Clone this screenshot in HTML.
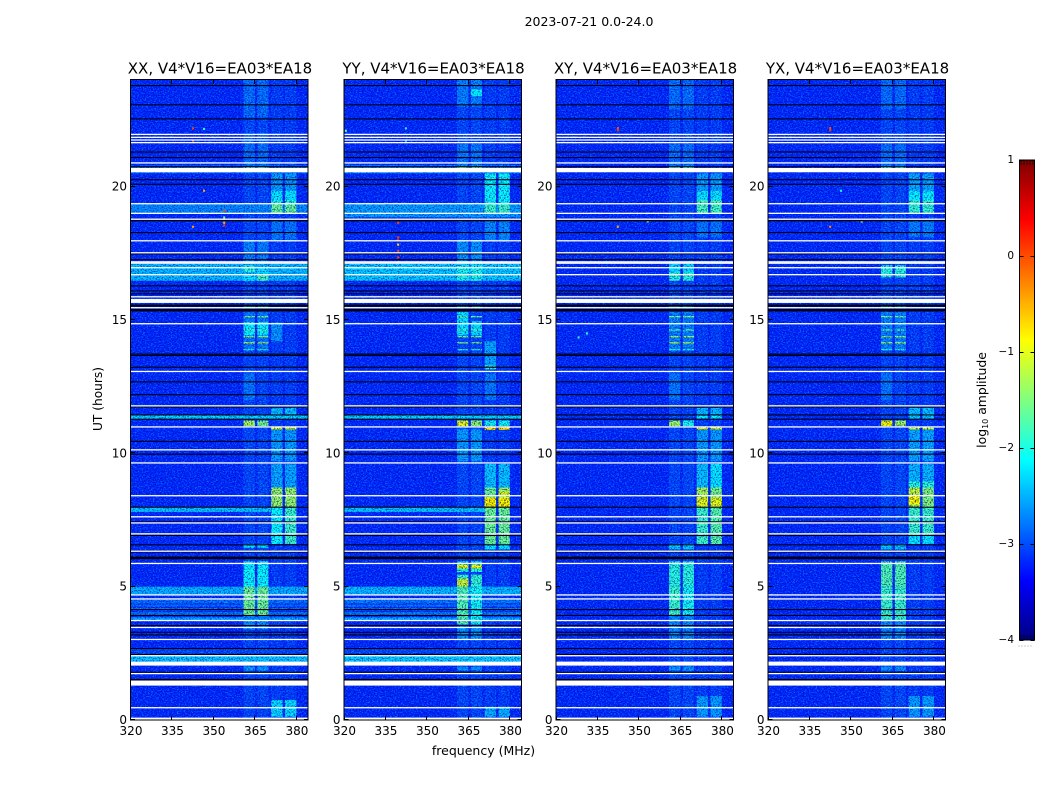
<!DOCTYPE html>
<html lang="en">
<head>
<meta charset="utf-8">
<title>2023-07-21 amplitude waterfall</title>
<style>
html,body{margin:0;padding:0;background:#fff;width:1050px;height:800px;overflow:hidden}
svg{display:block}
text{font-family:"DejaVu Sans","Liberation Sans",sans-serif;fill:#000}
.panel{isolation:isolate}
</style>
</head>
<body>
<svg id="figure" xmlns="http://www.w3.org/2000/svg" width="1050" height="800" viewBox="0 0 1050 800">
  <defs>
    <filter id="noise-light" x="0" y="0" width="1" height="1" color-interpolation-filters="sRGB">
      <feTurbulence type="fractalNoise" baseFrequency="0.62 0.8" numOctaves="2" seed="3"/>
      <feColorMatrix type="matrix" values="0 0 0 0 0  0 0 0 0 0.34  0 0 0 0 0.03  0 0 0 6 -3"/>
    </filter>
    <filter id="noise-dark" x="0" y="0" width="1" height="1" color-interpolation-filters="sRGB">
      <feTurbulence type="fractalNoise" baseFrequency="0.66 0.84" numOctaves="2" seed="11"/>
      <feColorMatrix type="matrix" values="0 0 0 0 0.35  0 0 0 0 0.35  0 0 0 0 0.82  0 0 0 5 -2.4"/>
    </filter>
  </defs>
  <text x="589" y="26" font-size="12.5" text-anchor="middle">2023-07-21 0.0-24.0</text>
  <text transform="translate(102,399) rotate(-90)" font-size="12.2" text-anchor="middle">UT (hours)</text>
  <text x="483.5" y="755" font-size="12.5" text-anchor="middle">frequency (MHz)</text>
  <text transform="translate(986,400) rotate(-90)" font-size="12.4" text-anchor="middle">log<tspan font-size="8" dy="2">10</tspan><tspan dy="-2"> amplitude</tspan></text>
  <g id="panels"></g>
  <g id="colorbar"></g>
</svg>
<script>
// ---------- data: axis ticks ----------
const freqTicks = [320, 335, 350, 365, 380];
const timeTicks = [0, 5, 10, 15, 20];
const colorTicks = [1, 0, -1, -2, -3, -4];
const colorTickLabels = ["1", "0", "\u22121", "\u22122", "\u22123", "\u22124"];
const backgroundLevel = -3.22;

// ---------- data: frequency groups (MHz) ----------
const channelGroups = {
  W: [[320, 384]],
  L: [[320, 370.7]],
  A: [[360.7, 364.8]],
  B: [[365.7, 369.7]],
  C: [[370.7, 374.8]],
  D: [[375.7, 379.8]],
  AB: [[360.7, 364.8], [365.7, 369.7]],
  CD: [[370.7, 374.8], [375.7, 379.8]]
};

// ---------- data: flagged rows, hours ----------
const whiteRows = [21.96,21.85,21.75,21.65,20.89,19.36,19.0,18.78,17.97,17.52,17.18,17.13,16.96,16.7,15.87,15.46,14.86,13.07,11.78,10.99,10.13,9.64,8.41,7.62,7.39,6.98,6.33,5.87,4.69,4.54,3.73,3.47,3.02,2.41,1.74,0.46];
const whiteSpans = [[20.54,20.7],[15.64,15.79],[2.04,2.19],[1.29,1.48],[0,0.09]];
const blackRows = [23.79,23.07,22.54,21.3,21.09,20.75,20.26,20.09,18.28,17.48,17.26,16.28,16.09,15.98,13.72,13.67,13.23,12.68,12.2,11.74,11.44,11.28,10.45,9.97,7.98,7.43,6.92,6.57,4.14,3.92,3.54,3.29,3.19,2.68,2.46,1.79];
const blackSpans = [[18.7,18.76],[15.5,15.58],[15.32,15.42],[6.28,6.36],[6.03,6.13],[1.48,1.54]];

// ---------- data: bands [start h, end h, group, log10 amplitude] ----------
const baseBands = [[0,24,"AB",-3.05],[0,24,"CD",-3.1]];
const bandsXX = [
  [20.5,20.8,"W",-2.8],[19.0,19.36,"W",-2.72],[16.47,17.1,"W",-2.45],[11.29,11.43,"W",-2.3],
  [7.8,7.98,"L",-2.4],[4.69,5.0,"W",-2.5],[3.92,4.55,"W",-2.85],[4.33,4.37,"W",-3.2],[4.2,4.25,"W",-3.2],[4.05,4.1,"W",-3.2],
  [3.73,3.85,"W",-2.55],[2.19,2.41,"W",-2.4],[2.46,2.68,"W",-3.05],
  [22.6,24,"AB",-2.85],[20.7,21.6,"AB",-2.85],[21.6,22,"AB",-2.9],[20.68,20.75,"AB",-1.9],
  [19.85,20.5,"CD",-2.6],[19.5,19.85,"CD",-2.2],[19.36,19.5,"CD",-2.0],[19.0,19.36,"CD",-1.65],[18.0,18.7,"CD",-2.8],
  [17.1,18,"AB",-2.75],[16.79,17.04,"A",-1.95],[16.47,16.7,"A",-2.2],[16.47,16.7,"B",-1.8],[16.7,17,"B",-2.25],
  [15.48,15.58,"AB",-1.9],[13.9,15.3,"AB",-2.8],[14.42,14.93,"AB",-2.15],[15.1,15.15,"AB",-1.6],[14.6,14.65,"AB",-1.7],[14.35,14.4,"AB",-1.5],[14.12,14.17,"AB",-1.3],[13.86,13.91,"AB",-2.0],
  [14.2,14.9,"C",-2.65],[12,13,"A",-2.8],
  [11.02,11.23,"A",-1.3],[11.02,11.23,"B",-1.55],[10.88,10.97,"CD",-0.9],[11.44,11.7,"CD",-2.4],
  [9.7,10.9,"CD",-2.6],[8.72,9.6,"CD",-2.55],[7.97,8.72,"CD",-1.4],[6.6,7.97,"C",-2.1],[6.6,7.97,"D",-1.85],
  [6.45,6.6,"AB",-2.3],[5.0,5.95,"AB",-2.1],[3.92,5.0,"AB",-1.6],[3.4,3.9,"AB",-2.7],[1.85,2.0,"AB",-2.6],[0.12,0.75,"CD",-2.25]
];
const bandsYY = [
  [20.5,20.8,"W",-2.65],[18.85,19.36,"W",-2.6],[16.47,17.1,"W",-2.35],[11.29,11.43,"W",-2.3],
  [7.8,7.98,"L",-2.4],[4.69,5.0,"W",-2.45],[3.92,4.55,"W",-2.8],[4.33,4.37,"W",-3.2],[4.2,4.25,"W",-3.2],[4.05,4.1,"W",-3.2],
  [3.73,3.85,"W",-2.5],[2.19,2.41,"W",-2.35],[2.46,2.68,"W",-3.05],
  [23.0,24,"AB",-2.75],[23.4,23.65,"B",-2.15],[20.7,21.6,"AB",-2.8],[20.68,20.78,"AB",-1.7],
  [19.36,20.5,"CD",-2.1],[19.0,19.36,"CD",-1.85],[18.0,18.7,"CD",-2.7],
  [17.1,18,"AB",-2.65],[16.47,17.05,"AB",-2.0],
  [15.48,15.58,"AB",-1.95],[14.42,15.3,"A",-2.2],[14.42,14.95,"B",-2.25],[15.1,15.15,"AB",-1.7],[14.6,14.65,"AB",-1.7],[14.35,14.4,"AB",-1.6],[14.12,14.17,"AB",-1.5],[13.86,13.91,"AB",-2.0],
  [13.3,14.2,"C",-2.55],[13.15,13.3,"C",-1.9],[12,13,"C",-2.8],
  [11.02,11.23,"A",-1.0],[11.02,11.23,"B",-1.4],[11.02,11.23,"CD",-2.05],[10.88,10.97,"CD",-0.75],
  [9.7,10.9,"AB",-2.6],[8.72,9.6,"CD",-2.4],[8.0,8.72,"C",-1.6],[8.0,8.72,"D",-1.35],[8.45,8.55,"D",-1.0],
  [6.6,7.97,"CD",-1.6],[6.4,6.6,"CD",-2.2],[7.97,8.35,"CD",-0.85],
  [5.55,5.95,"AB",-2.0],[5.68,5.82,"AB",-0.95],[5.0,5.45,"AB",-1.9],[5.0,5.3,"A",-1.15],[3.6,5.0,"A",-1.75],[3.6,5.0,"B",-2.05],
  [3.0,3.6,"AB",-2.65],[1.85,2.0,"AB",-2.65],[0.12,0.5,"CD",-2.5]
];
const bandsXY = [
  [11.3,11.44,"CD",-2.15],[11.44,11.7,"CD",-2.45],[14.42,14.95,"AB",-2.15],[13.9,15.3,"AB",-2.75],
  [22.9,24,"AB",-2.85],[20.7,21.6,"AB",-2.85],[20.68,20.78,"AB",-1.9],[19.85,20.5,"CD",-2.6],[19.5,19.85,"CD",-2.2],[19.0,19.5,"CD",-1.8],[18.1,18.7,"CD",-2.8],
  [16.8,17.1,"AB",-2.3],[16.47,16.8,"AB",-1.95],[15.48,15.58,"AB",-1.9],
  [15.1,15.15,"AB",-1.6],[14.6,14.65,"AB",-1.7],[14.35,14.4,"AB",-1.35],[14.12,14.17,"AB",-1.25],[13.86,13.91,"AB",-2.0],
  [12,13,"A",-2.8],[11.02,11.23,"A",-1.35],[11.02,11.23,"B",-2.0],[10.88,10.97,"CD",-0.85],
  [9.7,10.9,"CD",-2.6],[8.72,9.6,"C",-2.4],[8.72,9.6,"D",-2.2],[7.97,8.72,"C",-1.3],[7.97,8.72,"D",-1.55],[6.6,7.97,"C",-1.85],[6.6,7.97,"D",-1.7],[7.97,8.35,"CD",-1.0],
  [6.4,6.6,"AB",-2.35],[5.7,5.85,"AB",-1.1],[5.0,5.95,"AB",-1.95],[3.9,5.0,"AB",-1.85],[3.9,5.0,"B",-2.05],[3.0,3.9,"AB",-2.7],
  [1.85,2.0,"AB",-2.6],[0.12,0.9,"CD",-2.6]
];
const bandsYX = [
  [11.3,11.44,"CD",-2.3],[11.44,11.7,"CD",-2.4],[14.42,14.95,"AB",-2.2],[13.9,15.3,"AB",-2.75],
  [22.9,24,"AB",-2.85],[20.7,21.6,"AB",-2.85],[20.68,20.78,"AB",-1.95],[19.85,20.5,"CD",-2.55],[19.5,19.85,"CD",-2.15],[19.0,19.5,"CD",-1.9],[18.1,18.7,"CD",-2.75],
  [16.6,17.05,"AB",-1.95],[15.48,15.58,"AB",-1.95],
  [15.1,15.15,"AB",-1.65],[14.6,14.65,"AB",-1.7],[14.35,14.4,"AB",-1.45],[14.12,14.17,"AB",-1.35],[13.86,13.91,"AB",-2.0],
  [12,13,"A",-2.8],[11.02,11.23,"A",-0.9],[11.02,11.23,"B",-1.35],[10.88,10.97,"CD",-1.0],
  [9.7,10.9,"CD",-2.55],[8.72,9.6,"CD",-2.45],[8.72,8.95,"CD",-1.95],[7.97,8.72,"C",-1.2],[7.97,8.72,"D",-1.5],[8.1,8.4,"C",-0.9],[6.9,7.97,"CD",-1.85],[6.6,6.9,"CD",-2.2],
  [6.4,6.6,"AB",-2.4],[5.7,5.85,"AB",-1.35],[5.0,5.95,"AB",-1.75],[3.7,5.0,"AB",-1.85],[3.0,3.7,"AB",-2.7],
  [1.85,2.0,"AB",-2.65],[0.12,0.9,"CD",-2.6]
];

// ---------- data: isolated specks [hour, MHz, log10 amplitude] ----------
const specksXX = [[19.85,346.4,-0.4],[22.19,342.4,0.05],[22.17,346.4,-1.9],[21.73,342.4,-0.2],[19.1,353.7,0.05],[18.85,353.7,-1.6],[18.75,353.7,-0.8],[18.65,353.7,-0.5],[18.55,353.7,0.1],[18.5,342.4,-0.4]];
const specksYY = [[18.65,339.4,0.05],[18.1,339.4,0.1],[18.0,339.4,0.15],[17.83,339.4,-0.7],[17.6,339.4,0.05],[17.35,339.4,0.1],[17.17,339.4,0.05],[22.19,342.2,-2.0],[21.73,342.2,-2.0],[22.1,320.5,-1.6]];
const specksXY = [[22.2,342.2,-0.05],[22.12,342.2,0.1],[18.5,342.2,-0.4],[18.7,353,-1.2],[14.5,331,-1.9],[14.35,328,-1.9]];
const specksYX = [[22.2,342.3,0.0],[22.12,342.3,0.1],[18.5,342.3,-0.3],[18.7,353.7,-1.3],[19.85,346.2,-2.1]];

const panelTitles = ["XX, V4*V16=EA03*EA18", "YY, V4*V16=EA03*EA18", "XY, V4*V16=EA03*EA18", "YX, V4*V16=EA03*EA18"];
const panelBands = [bandsXX, bandsYY, bandsXY, bandsYX];
const panelSpecks = [specksXX, specksYY, specksXY, specksYX];

// ---------- layout (not data) ----------
const NS = "http://www.w3.org/2000/svg";
const panelLefts = [131, 344.5, 556.5, 768.5];
const plotWidth = 177, plotTop = 80, plotBottom = 720;
const fMin = 320, fMax = 384, tMax = 24;
const cbLeft = 1019.5, cbRight = 1034.5, cbTop = 160, cbBottom = 640;

function jet(level) {
  const v = Math.max(0, Math.min(1, (level + 4) / 5));
  const r = Math.max(0, Math.min(1, 1.5 - Math.abs(4 * v - 3)));
  const g = Math.max(0, Math.min(1, 1.5 - Math.abs(4 * v - 2)));
  const b = Math.max(0, Math.min(1, 1.5 - Math.abs(4 * v - 1)));
  return "rgb(" + Math.round(r * 255) + "," + Math.round(g * 255) + "," + Math.round(b * 255) + ")";
}
function timeY(t) { return plotBottom - (t / tMax) * (plotBottom - plotTop); }
function colorY(l) { return cbBottom - ((l + 4) / 5) * (cbBottom - cbTop); }
function make(tag, attrs, parent) {
  const el = document.createElementNS(NS, tag);
  for (const k in attrs) el.setAttribute(k, attrs[k]);
  parent.appendChild(el);
  return el;
}

const panelsRoot = document.getElementById("panels");
panelTitles.forEach(function (title, p) {
  const left = panelLefts[p];
  const freqX = function (f) { return left + ((f - fMin) / (fMax - fMin)) * plotWidth; };
  const g = make("g", { "class": "panel" }, panelsRoot);
  
  

  const bg = make("rect", { x: left, y: plotTop, width: plotWidth, height: plotBottom - plotTop, fill: jet(backgroundLevel) }, g);
  
  

  baseBands.concat(panelBands[p]).forEach(function (band) {
    channelGroups[band[2]].forEach(function (range) {
      const el = make("rect", {
        x: freqX(range[0]), y: timeY(band[1]),
        width: freqX(range[1]) - freqX(range[0]),
        height: timeY(band[0]) - timeY(band[1]),
        fill: jet(band[3])
      }, g);
      
      
    });
  });

  const nl = make("rect", { x: left, y: plotTop, width: plotWidth, height: plotBottom - plotTop, filter: "url(#noise-light)", style: "mix-blend-mode:screen" }, g);
  
  
  const nd = make("rect", { x: left, y: plotTop, width: plotWidth, height: plotBottom - plotTop, filter: "url(#noise-dark)", style: "mix-blend-mode:multiply" }, g);
  
  

  panelSpecks[p].forEach(function (s) {
    const el = make("rect", { x: freqX(s[1]) - 1, y: timeY(s[0]) - 1, width: 2, height: 2.2, fill: jet(s[2]) }, g);
    
    
  });

  blackRows.forEach(function (t) {
    const el = make("rect", { x: left, y: timeY(t) - 0.55, width: plotWidth, height: 1.1, fill: "#000010" }, g);
    
    
  });
  blackSpans.forEach(function (s) {
    const el = make("rect", { x: left, y: timeY(s[1]), width: plotWidth, height: timeY(s[0]) - timeY(s[1]), fill: "#000010" }, g);
    
    
  });
  whiteRows.forEach(function (t) {
    const el = make("rect", { x: left, y: timeY(t) - 0.65, width: plotWidth, height: 1.3, fill: "#fff" }, g);
    
    
  });
  whiteSpans.forEach(function (s) {
    const el = make("rect", { x: left, y: timeY(s[1]), width: plotWidth, height: timeY(s[0]) - timeY(s[1]), fill: "#fff" }, g);
    
    
  });

  const frame = make("rect", { x: left - 0.5, y: plotTop - 0.5, width: plotWidth + 0.5, height: plotBottom - plotTop + 0.5, fill: "none", stroke: "#000", "stroke-width": 1 }, g);
  
  

  const t = make("text", { x: left + plotWidth / 2 + 0.5, y: 73.5, "font-size": 15, "text-anchor": "middle" }, g);
  t.textContent = title;
  
  

  freqTicks.forEach(function (f) {
    const x = Math.round(freqX(f)) - 0.5;
    const a = make("line", { x1: x, x2: x, y1: plotBottom, y2: plotBottom - 4, stroke: "#000", "stroke-width": 1 }, g);
    
    
    const b = make("line", { x1: x, x2: x, y1: plotTop, y2: plotTop + 4, stroke: "#000", "stroke-width": 1 }, g);
    
    
    const l = make("text", { x: freqX(f), y: 735, "font-size": 12, "text-anchor": "middle" }, g);
    l.textContent = String(f);
    
    
  });
  timeTicks.forEach(function (h) {
    const y = Math.round(timeY(h)) - 0.5;
    const a = make("line", { x1: left, x2: left + 4, y1: y, y2: y, stroke: "#000", "stroke-width": 1 }, g);
    
    
    const b = make("line", { x1: left + plotWidth, x2: left + plotWidth - 4, y1: y, y2: y, stroke: "#000", "stroke-width": 1 }, g);
    
    
    const l = make("text", { x: left - 4, y: timeY(h) + 4, "font-size": 12, "text-anchor": "end" }, g);
    l.textContent = String(h);
    
    
  });
});

// ---------- colorbar ----------
const cb = document.getElementById("colorbar");
for (let i = 0; i < 200; i++) {
  const lvl = -4 + i * 0.025;
  const seg = make("rect", { x: cbLeft, y: colorY(lvl + 0.025) - (i < 199 ? 0.3 : 0), width: cbRight - cbLeft, height: (cbBottom - cbTop) / 200 + (i < 199 ? 0.6 : 0), fill: jet(lvl + 0.0125) }, cb);
  
  
}
const cbFrame = make("rect", { x: cbLeft, y: cbTop, width: cbRight - cbLeft, height: cbBottom - cbTop, fill: "none", stroke: "#000", "stroke-width": 1 }, cb);


colorTicks.forEach(function (l, i) {
  const y = Math.round(colorY(l)) + 0.5;
  const a = make("line", { x1: cbLeft, x2: cbLeft + 4, y1: y, y2: y, stroke: "#000", "stroke-width": 1 }, cb);
  
  
  const b = make("line", { x1: cbRight, x2: cbRight - 4, y1: y, y2: y, stroke: "#000", "stroke-width": 1 }, cb);
  
  
  const t = make("text", { x: 1014, y: colorY(l) + 3, "font-size": 10.5, "text-anchor": "end" }, cb);
  t.textContent = colorTickLabels[i];
  
  
});
for (let i = 0; i < 5; i++) {
  const x = cbLeft + 1.5 + i * 3;
  const topMark = make("line", { x1: x, x2: x, y1: cbTop, y2: cbTop + 5, stroke: "#000", "stroke-width": 1, opacity: 0.6 }, cb);
  
  
  const botMark = make("line", { x1: x, x2: x, y1: cbBottom, y2: cbBottom - 5, stroke: "#000", "stroke-width": 1, opacity: 0.6 }, cb);
  
  
  const dot = make("rect", { x: x - 2.5, y: 645.5, width: 1, height: 1, fill: "#999" }, cb);
  
  
}
</script>
</body>
</html>
